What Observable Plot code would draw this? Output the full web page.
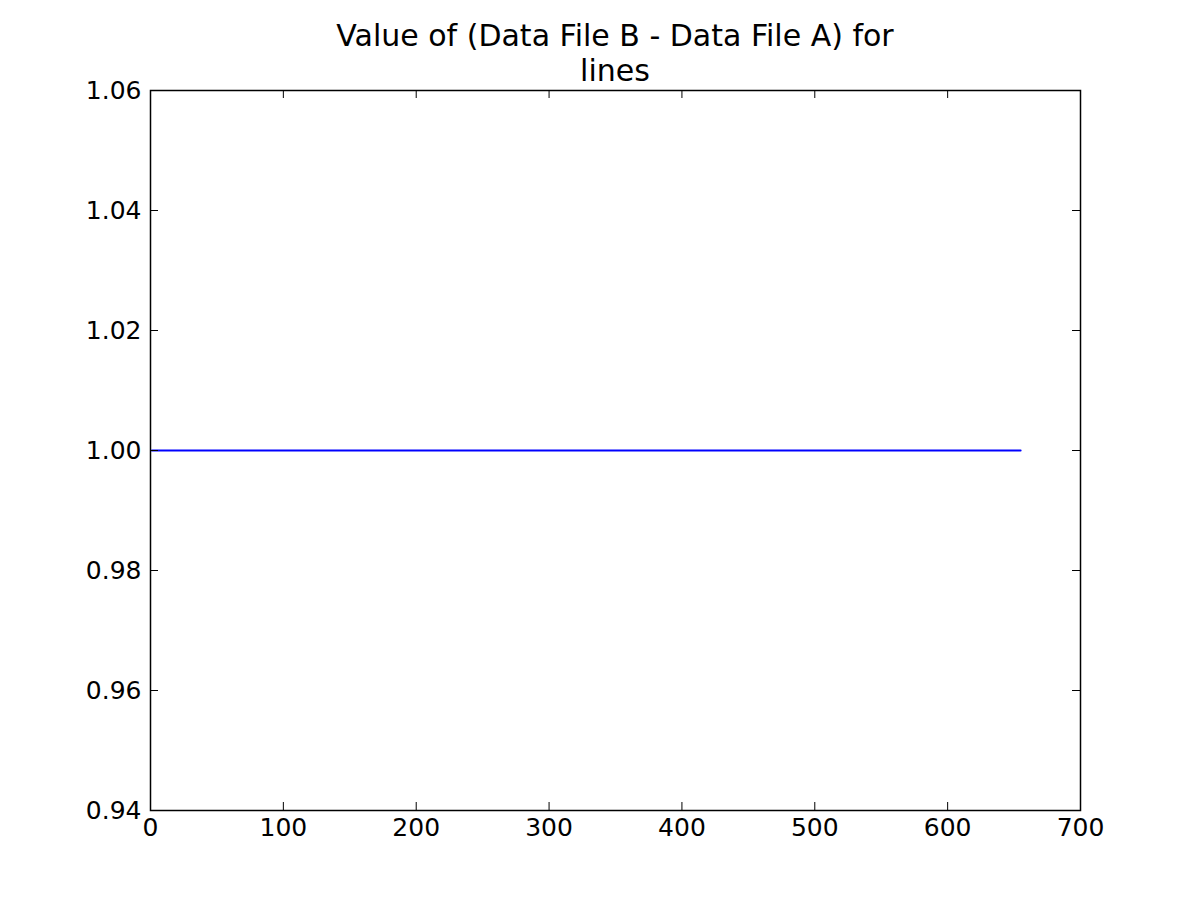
<!DOCTYPE html>
<html>
<head>
<meta charset="utf-8">
<script src="https://cdn.jsdelivr.net/npm/d3@7"></script>
<script src="https://cdn.jsdelivr.net/npm/@observablehq/plot@0.6"></script>
<style>
  html, body { margin: 0; padding: 0; background: #fff; }
  #wrap { width: 1200px; height: 900px; position: relative; overflow: hidden; }
  #title {
    position: relative; z-index: 2;
    height: 60px; overflow: visible;
    margin-left: 150px; width: 930px;
    padding-top: 18px; box-sizing: content-box;
    font-family: "DejaVu Sans", sans-serif; font-size: 30px; line-height: 35px;
    text-align: center; color: #000;
  }
  #chart { position: absolute; left: 0; top: 60px; }
</style>
</head>
<body>
<div id="wrap">
  <div id="title">Value of (Data File B - Data File A) for<br>lines</div>
  <div id="chart"></div>
</div>
<script>
// Data: a constant line at 1.00 from x≈1 to x≈655
const xValues = [1, 655];
const yValues = [1.0, 1.0];
const xTicks = [0, 100, 200, 300, 400, 500, 600, 700];
const yTicks = [0.94, 0.96, 0.98, 1.00, 1.02, 1.04, 1.06];

const data = xValues.map((x, i) => ({x, y: yValues[i]}));

const W = 1200, H = 840;
const mTop = 30, mBottom = 90, mLeft = 150, mRight = 120;
const plotH = H - mTop - mBottom;
const plotW = W - mLeft - mRight;
const tickLen = 8;

const chart = Plot.plot({
  width: W,
  height: H,
  marginTop: mTop,
  marginBottom: mBottom,
  marginLeft: mLeft,
  marginRight: mRight,
  style: { fontFamily: "DejaVu Sans, sans-serif", fontSize: "25px", color: "#000", background: "#fff" },
  x: { domain: [0, 700] },
  y: { domain: [0.94, 1.06] },
  marks: [
    Plot.line(data, { x: "x", y: "y", stroke: "#0000ff", strokeWidth: 1.8 }),
    // inward ticks on all four sides
    Plot.tickX(xTicks, { x: d => d, insetTop: plotH - tickLen, stroke: "#000", strokeWidth: 1 }),
    Plot.tickX(xTicks, { x: d => d, insetBottom: plotH - tickLen, stroke: "#000", strokeWidth: 1 }),
    Plot.tickY(yTicks, { y: d => d, insetRight: plotW - tickLen, stroke: "#000", strokeWidth: 1 }),
    Plot.tickY(yTicks, { y: d => d, insetLeft: plotW - tickLen, stroke: "#000", strokeWidth: 1 }),
    Plot.axisX({ ticks: xTicks, tickSize: 0, tickPadding: 8, label: null, tickFormat: d => String(d) }),
    Plot.axisY({ ticks: yTicks, tickSize: 0, tickPadding: 9, label: null, tickFormat: d => d.toFixed(2) }),
    Plot.frame({ stroke: "#000", strokeWidth: 1.5 })
  ]
});
document.getElementById("chart").appendChild(chart);
</script>
</body>
</html>
